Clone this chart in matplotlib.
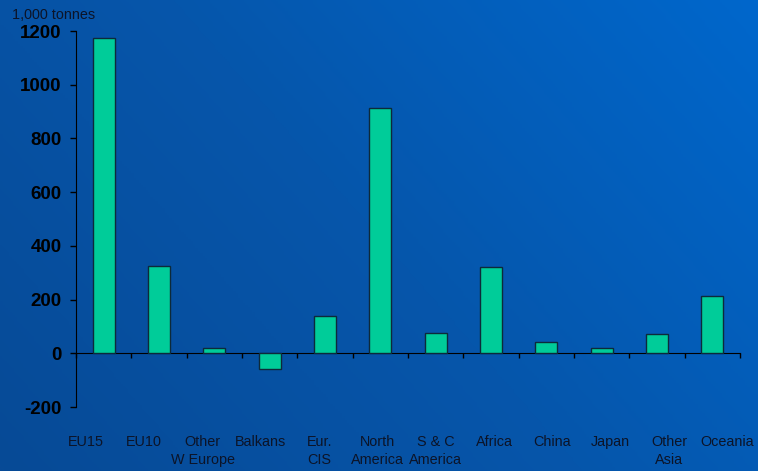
import numpy as np
import matplotlib
matplotlib.use("Agg")
import matplotlib.pyplot as plt
from matplotlib.colors import LinearSegmentedColormap

categories = ["EU15", "EU10", "Other\nW Europe", "Balkans", "Eur.\nCIS", "North\nAmerica",
              "S & C\nAmerica", "Africa", "China", "Japan", "Other\nAsia", "Oceania"]
values = [1175, 324, 18, -58, 138, 912, 77, 320, 43, 19, 71, 212]
yticks = [-200, 0, 200, 400, 600, 800, 1000, 1200]
unit_label = "1,000 tonnes"

plt.rcParams['font.family'] = ['Liberation Sans', 'DejaVu Sans']

fig = plt.figure(figsize=(7.58, 4.71), dpi=100)

# gradient background
bg = fig.add_axes([0, 0, 1, 1], zorder=-10)
bg.set_axis_off()
h, w = 200, 320
yy, xx = np.mgrid[0:1:h*1j, 0:1:w*1j]
t = 0.65 * xx + 0.35 * (1 - yy)
cmap = LinearSegmentedColormap.from_list("bgc", ["#074a96", "#0656ab", "#0067cc"])
bg.imshow(t, cmap=cmap, aspect='auto', extent=[0, 1, 0, 1], interpolation='bilinear')
bg.set_xlim(0, 1); bg.set_ylim(0, 1)

ax = fig.add_axes([76/758, (471-407)/471, 664/758, 376/471])
ax.set_facecolor('none')
x = np.arange(len(categories))
ax.bar(x, values, width=0.4, color="#00cc99", edgecolor="#0d2a3a", linewidth=1.0, zorder=3)

ax.set_xlim(-0.5, len(categories) - 0.5)
ax.set_ylim(-200, 1200)
ax.set_yticks(yticks)
ax.set_yticklabels([str(v) for v in yticks], fontsize=13.5, fontweight='bold', color='black')
ax.tick_params(axis='y', length=4.5, width=1, color='black', direction='out', pad=6)

for s in ['top', 'right']:
    ax.spines[s].set_visible(False)
ax.spines['left'].set_color('black')
ax.spines['bottom'].set_position(('data', 0))
ax.spines['bottom'].set_color('black')
ax.set_xticks(np.arange(len(categories) + 1) - 0.5)
ax.set_xticklabels([])
ax.tick_params(axis='x', length=3.6, width=1, color='black', direction='out')

# category labels are spread slightly wider than the bars in the original
label_pos = -0.32 + 1.054 * x
for lp, c in zip(label_pos, categories):
    ax.text(lp, -0.074, c, transform=ax.get_xaxis_transform(), ha='center', va='top',
            fontsize=10.4, color='#0c1428', linespacing=1.42, clip_on=False)

fig.text(12/758, 1 - 15/471, unit_label, fontsize=10.4, color='#0c1428', ha='left', va='center')

fig.savefig("out.png", dpi=100)
